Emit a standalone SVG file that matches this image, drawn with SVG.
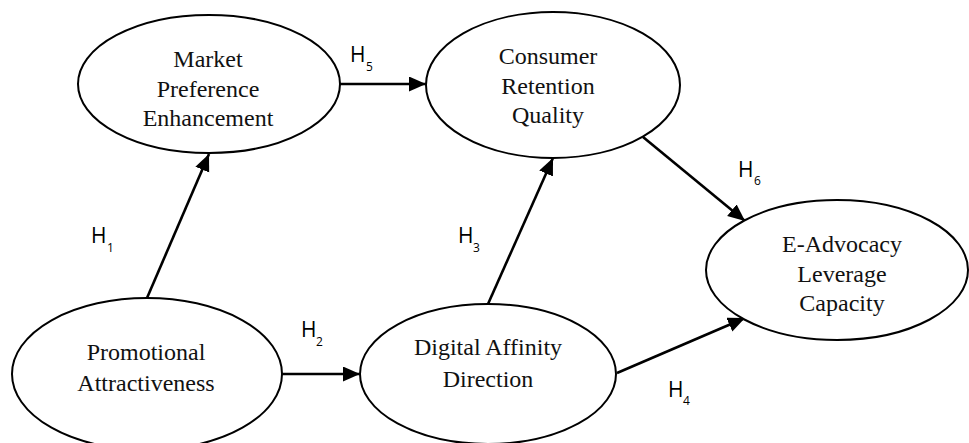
<svg xmlns="http://www.w3.org/2000/svg" width="969" height="443" viewBox="0 0 969 443">
<style>
.node ellipse{fill:#fff;stroke:#000;stroke-width:2}
.node text{font-family:"Liberation Serif","Times New Roman",serif;font-size:24px;fill:#111;text-anchor:middle}
.edge{stroke:#000;stroke-width:2.6;fill:none;marker-end:url(#arr)}
.lbl{font-family:"Open Sans","DejaVu Sans",sans-serif;font-size:21px;fill:#000}
.sub{font-size:12px}
</style>
<defs>
<marker id="arr" markerUnits="userSpaceOnUse" markerWidth="18" markerHeight="16" refX="17" refY="7.5" orient="auto">
<path d="M0,0 L17,7.5 L0,15 z" fill="#000"/>
</marker>
</defs>
<rect width="969" height="443" fill="#fff"/>
<g id="connectors">
<line class="edge" x1="340" y1="84" x2="426" y2="84"/>
<line class="edge" x1="147" y1="298" x2="209" y2="154"/>
<line class="edge" x1="282" y1="374" x2="360" y2="374"/>
<line class="edge" x1="488" y1="304" x2="553" y2="158"/>
<line class="edge" x1="643" y1="137" x2="745" y2="221"/>
<line class="edge" x1="617" y1="373" x2="745" y2="318"/>
</g>
<g id="labels">
<text class="lbl" x="350" y="62">H<tspan class="sub" x="366" y="71">5</tspan></text>
<text class="lbl" x="738" y="177">H<tspan class="sub" x="754" y="185">6</tspan></text>
<text class="lbl" x="91" y="243">H<tspan class="sub" x="107" y="252">1</tspan></text>
<text class="lbl" x="458" y="243">H<tspan class="sub" x="473" y="252">3</tspan></text>
<text class="lbl" x="301" y="337">H<tspan class="sub" x="316" y="346">2</tspan></text>
<text class="lbl" x="668" y="397">H<tspan class="sub" x="683" y="405">4</tspan></text>
</g>
<g id="mpe" class="node">
<ellipse cx="209" cy="84" rx="131" ry="69"/>
<text x="208" y="67">Market</text>
<text x="208" y="97">Preference</text>
<text x="208" y="126">Enhancement</text>
</g>
<g id="crq" class="node">
<ellipse cx="553" cy="85" rx="127" ry="73"/>
<text x="548" y="64">Consumer</text>
<text x="548" y="94">Retention</text>
<text x="548" y="123">Quality</text>
</g>
<g id="eal" class="node">
<ellipse cx="837" cy="270" rx="131" ry="70"/>
<text x="842" y="252">E-Advocacy</text>
<text x="842" y="282">Leverage</text>
<text x="842" y="311">Capacity</text>
</g>
<g id="pa" class="node">
<ellipse cx="147" cy="374" rx="135" ry="76"/>
<text x="146" y="360">Promotional</text>
<text x="146" y="391">Attractiveness</text>
</g>
<g id="dad" class="node">
<ellipse cx="488" cy="374" rx="128" ry="70"/>
<text x="488" y="355">Digital Affinity</text>
<text x="488" y="387">Direction</text>
</g>
</svg>
